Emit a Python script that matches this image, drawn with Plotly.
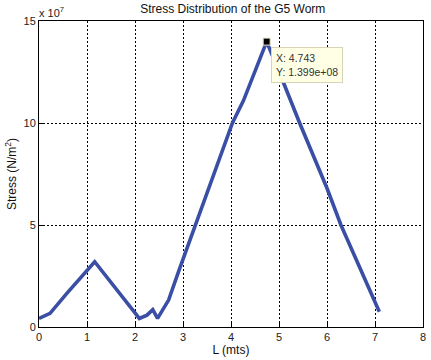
import plotly.graph_objects as go

# Data (stress in units of 1e7 N/m^2)
L_mts = [0, 0.23, 0.58, 1.0, 1.16, 2.0, 2.09, 2.25, 2.37, 2.47, 2.7, 2.92,
         3.26, 4.03, 4.26, 4.743, 5.09, 5.43, 6.0, 6.29, 7.09]
stress_e7 = [0.42, 0.67, 1.65, 2.8, 3.2, 0.69, 0.42, 0.58, 0.85, 0.42, 1.32, 2.8,
             5.0, 10.0, 11.1, 13.99, 12.0, 10.0, 6.8, 5.0, 0.75]

tip_x = [4.743]
tip_y = [13.99]
tip_label = ["X: 4.743<br>Y: 1.399e+08"]

x_ticks = [0, 1, 2, 3, 4, 5, 6, 7, 8]
y_ticks = [0, 5, 10, 15]

FONT = "Liberation Sans, Arial, sans-serif"

fig = go.Figure()
fig.add_trace(go.Scatter(x=L_mts, y=stress_e7, mode="lines",
                         line=dict(color="#3a4ea6", width=3.6),
                         hoverinfo="skip", showlegend=False))
fig.add_trace(go.Scatter(x=tip_x, y=tip_y, mode="markers",
                         marker=dict(symbol="square", size=7, color="black",
                                     line=dict(color="#e8e4c8", width=1)),
                         hoverinfo="skip", showlegend=False))

fig.add_annotation(x=tip_x[0], y=tip_y[0], xref="x", yref="y",
                   text=tip_label[0], showarrow=False, align="left",
                   xanchor="left", yanchor="top", xshift=4, yshift=-5,
                   bgcolor="#ffffe6", bordercolor="#d8d4b8", borderwidth=1,
                   borderpad=4, font=dict(family=FONT, size=10.5, color="#333333"))

fig.add_annotation(x=0, y=1, xref="paper", yref="paper", text="x 10<sup>7</sup>",
                   showarrow=False, xanchor="left", yanchor="bottom", xshift=-2, yshift=0,
                   font=dict(family=FONT, size=11, color="#222222"))

axis_common = dict(showgrid=True, gridcolor="black", gridwidth=1, griddash="2px,2px",
                   showline=True, linecolor="black", linewidth=1, mirror=True,
                   ticks="inside", ticklen=4, tickcolor="black", zeroline=False,
                   tickfont=dict(family=FONT, size=11, color="#222222"))

fig.update_layout(
    width=431, height=360,
    margin=dict(l=39, r=5, t=21, b=33),
    paper_bgcolor="white", plot_bgcolor="white",
    hovermode=False,
    title=dict(text="Stress Distribution of the G5 Worm", x=0.54, xanchor="center",
               y=0.975, yanchor="middle",
               font=dict(family=FONT, size=12, color="#111111")),
    xaxis=dict(range=[0, 8], tickvals=x_ticks,
               title=dict(text="L (mts)", standoff=2,
                          font=dict(family=FONT, size=12, color="#111111")),
               **axis_common),
    yaxis=dict(range=[0, 15], tickvals=y_ticks,
               title=dict(text="Stress (N/m<sup>2</sup>)", standoff=4,
                          font=dict(family=FONT, size=12, color="#111111")),
               **axis_common),
)

fig.write_html("out.html", config={"displayModeBar": False},
               post_script="document.body.style.margin='0';document.body.style.overflow='hidden';")
